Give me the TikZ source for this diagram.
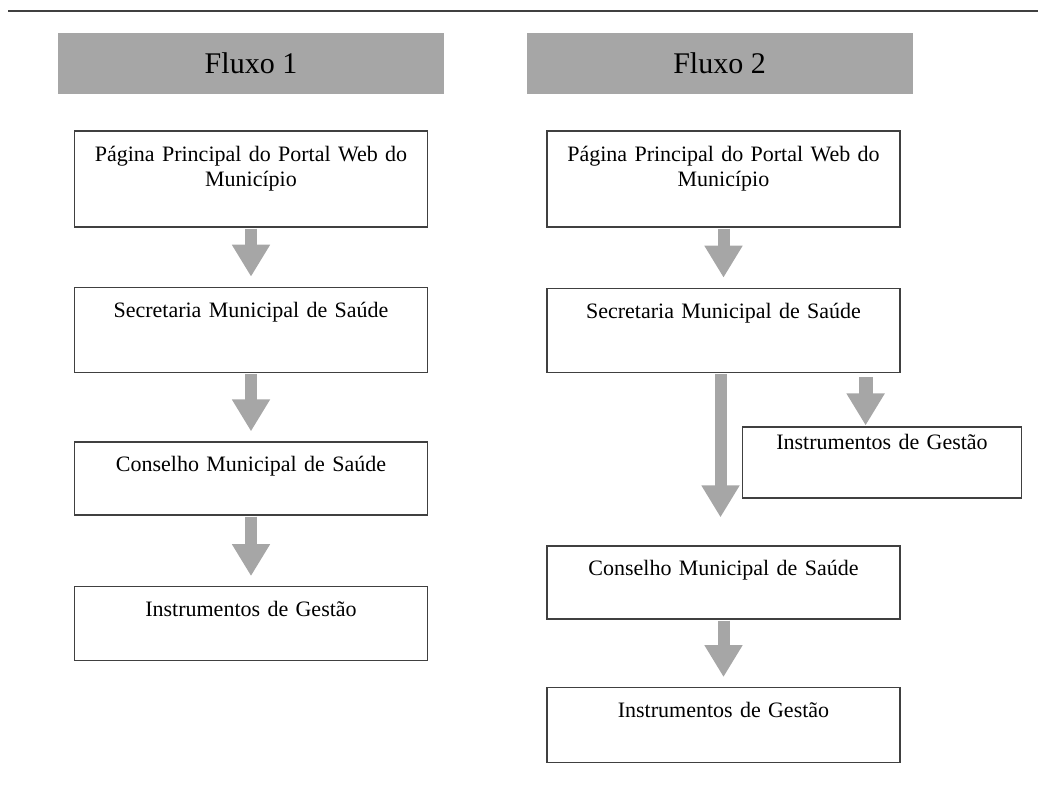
\documentclass[tikz,border=0pt]{standalone}
\usepackage{fontspec}
\setmainfont{Liberation Serif}
\usepackage{tikz}
\usetikzlibrary{arrows.meta,positioning}

\begin{document}
\begin{tikzpicture}[x=1pt,y=1pt]
  \def\CCAB{black!35}
  \def\CBOR{black!75}
  \tikzstyle{cab} = [fill=\CCAB, minimum width=386pt, minimum height=61pt, inner sep=0pt, font=\fontsize{30}{34}\selectfont]
  \tikzstyle{caixa} = [draw=\CBOR, line width=1.2pt, text width=353pt, align=center, inner xsep=0pt, inner ysep=0pt, text height=30pt, anchor=north, font=\fontsize{22}{25.5}\selectfont]
  \tikzstyle{seta} = [draw=\CCAB, line width=12pt, -{Triangle[width=36pt,length=32pt]}, shorten <=1pt, shorten >=10pt]

  \useasboundingbox (0,0) rectangle (1038,786);
  \draw[\CBOR, line width=1.3pt] (8,775) -- (1038,775);

  % cabecalhos
  \node[cab] (F1) at (251,722.5) {Fluxo 1};
  \node[cab] (F2) at (719.5,722.5) {Fluxo 2};

  % fluxo 1
  \node[caixa, text depth=66pt] (P1) at (251,655.5) {Página Principal do Portal Web do\\ Município};
  \node[caixa, text depth=55pt, below=59pt of P1] (S1) {Secretaria Municipal de Saúde};
  \node[caixa, text depth=43pt, below=68.5pt of S1] (C1) {Conselho Municipal de Saúde};
  \node[caixa, text depth=44pt, below=70.5pt of C1] (I1) {Instrumentos de Gestão};

  \draw[seta] (P1.south) -- (S1.north);
  \draw[seta] (S1.south) -- (C1.north);
  \draw[seta] (C1.south) -- (I1.north);

  % fluxo 2
  \node[caixa, text depth=66pt] (P2) at (723.5,655.5) {Página Principal do Portal Web do\\ Município};
  \node[caixa, text depth=54pt, below=60pt of P2] (S2) {Secretaria Municipal de Saúde};
  \node[caixa, text depth=43pt, below=172.5pt of S2] (C2) {Conselho Municipal de Saúde};
  \node[caixa, text depth=45pt, below=67.5pt of C2] (I2) {Instrumentos de Gestão};
  \node[caixa, text width=279pt, text height=22pt, text depth=49pt] (G2) at (882,359.5) {Instrumentos de Gestão};

  \draw[seta] (P2.south) -- (S2.north);
  \draw[seta, shorten >=28pt] ([xshift=-3pt]S2.south) -- ([xshift=-3pt]C2.north);
  \coordinate (g) at ([xshift=-35pt]S2.south east);
  \draw[seta, line width=14pt, shorten <=4pt, shorten >=1pt] (g) -- (g |- G2.north);
  \draw[seta] (C2.south) -- (I2.north);

\end{tikzpicture}
\end{document}
